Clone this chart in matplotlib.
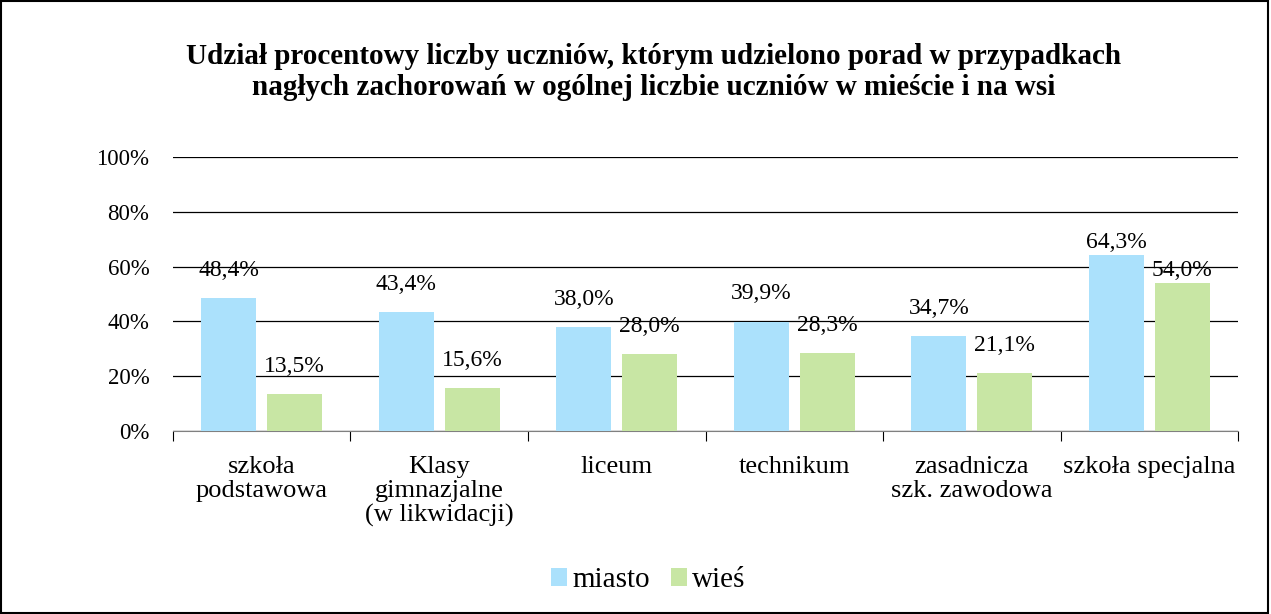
import numpy as np
import matplotlib
matplotlib.use('Agg')
import matplotlib.pyplot as plt
from matplotlib.patches import Rectangle

plt.rcParams['font.family'] = ['Liberation Serif', 'DejaVu Serif']

categories = ['szkoła\npodstawowa', 'Klasy\ngimnazjalne\n(w likwidacji)', 'liceum',
              'technikum', 'zasadnicza\nszk. zawodowa', 'szkoła specjalna']
miasto = [48.4, 43.4, 38.0, 39.9, 34.7, 64.3]
wies = [13.5, 15.6, 28.0, 28.3, 21.1, 54.0]
series_names = ['miasto', 'wieś']
colors = ['#ABE1FC', '#C8E6A4']
title = ('Udział procentowy liczby uczniów, którym udzielono porad w przypadkach\n'
         'nagłych zachorowań w ogólnej liczbie uczniów w mieście i na wsi')

fig = plt.figure(figsize=(12.71, 6.14), dpi=100)
ax = fig.add_axes([0.1361, 0.298, 0.838, 0.4463])

x = np.arange(len(categories))
w = 0.31
off = 0.185
bars1 = ax.bar(x - off, miasto, w, color=colors[0], label=series_names[0], zorder=3)
bars2 = ax.bar(x + off, wies, w, color=colors[1], label=series_names[1], zorder=3)

def fmt(v):
    return f'{v:.1f}%'.replace('.', ',')

# data labels above the bars (last group sits closer, like in the original)
for bars, vals in [(bars1, miasto), (bars2, wies)]:
    for i, (b, v) in enumerate(zip(bars, vals)):
        dy = 9 if i == len(vals) - 1 else 20
        ax.annotate(fmt(v), (b.get_x() + b.get_width() / 2, v), xytext=(0, dy),
                    textcoords='offset points', ha='center', va='center',
                    fontsize=17, zorder=4)

ax.set_ylim(0, 100)
ax.set_xlim(-0.5, len(categories) - 0.5)
ax.set_yticks(np.arange(0, 101, 20))
ax.set_yticklabels([f'{int(t)}%' for t in np.arange(0, 101, 20)], fontsize=16.5)
ax.yaxis.grid(True, color='black', linewidth=0.9, zorder=0)
ax.tick_params(axis='y', length=0, pad=17)

ax.set_xticks(np.arange(-0.5, len(categories), 1.0))
ax.set_xticklabels([])
ax.set_xticks(x, minor=True)
ax.set_xticklabels(categories, minor=True, fontsize=19, linespacing=1.12, va='top')
ax.tick_params(axis='x', which='major', direction='out', length=7, color='black')
ax.tick_params(axis='x', which='minor', length=0, pad=18)

for s in ['top', 'right', 'left']:
    ax.spines[s].set_visible(False)
ax.spines['bottom'].set_color('#808080')

fig.text(0.5146, 0.883, title, ha='center', va='center', fontsize=21,
         fontweight='bold', linespacing=1.2)

fig.legend(handles=[bars1, bars2], loc='center', bbox_to_anchor=(0.51, 0.055),
           ncol=2, frameon=False, fontsize=21, handlelength=0.55, handleheight=0.55,
           handletextpad=0.2, columnspacing=0.7)

fig.patches.append(Rectangle((0.001, 0.002), 0.997, 0.996, transform=fig.transFigure,
                             fill=False, edgecolor='black', linewidth=1.5))

fig.savefig('out.png', dpi=100)
